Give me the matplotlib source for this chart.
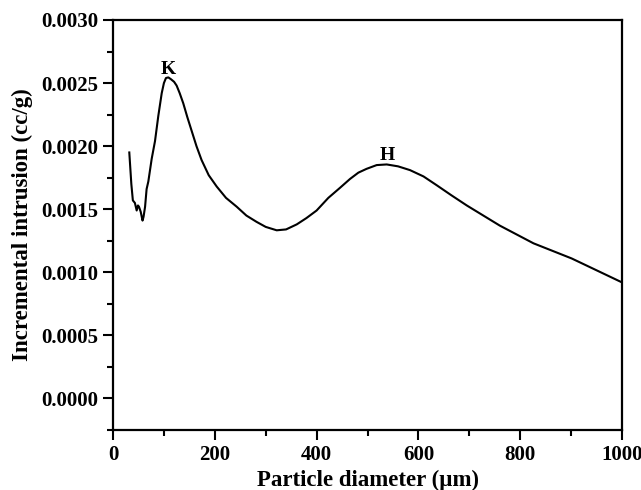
import matplotlib
matplotlib.use("Agg")
import matplotlib.pyplot as plt
from matplotlib.ticker import MultipleLocator, FormatStrFormatter
import numpy as np

# particle diameter (um) vs incremental intrusion (cc/g)
diameter = [32, 36, 39, 43, 46.5, 49, 51, 54.4, 58, 60, 63, 66, 69.4, 76, 82.5, 89,
            95.7, 100, 104, 108.7, 114, 120, 125, 131, 138, 146, 154.6, 164, 174,
            188, 203.7, 222, 243, 262, 282, 300, 321.6, 340, 361, 380, 400, 423, 446,
            465.6, 482, 498, 518, 537.7, 560, 583.5, 610, 636, 665, 695, 760, 826,
            901, 1000]
intrusion = [0.00195, 0.00170, 0.00157, 0.00155, 0.00149, 0.00153, 0.00152, 0.00148,
             0.00141, 0.00144, 0.00152, 0.00166, 0.00172, 0.00190, 0.00204, 0.00224,
             0.00242, 0.00250, 0.00254, 0.002545, 0.00253, 0.00251, 0.00248, 0.00242,
             0.00234, 0.00223, 0.00212, 0.00200, 0.00189, 0.00177, 0.00168, 0.00159,
             0.00152, 0.00145, 0.00140, 0.00136, 0.001333, 0.00134, 0.00138, 0.00143,
             0.00149, 0.00159, 0.00167, 0.00174, 0.00179, 0.00182, 0.00185, 0.001855,
             0.00184, 0.00181, 0.00176, 0.00169, 0.00161, 0.00153, 0.00137, 0.00123,
             0.00111, 0.00092]

peak_labels = ["K", "H"]
peak_x = [108, 538]
peak_y = [0.00257, 0.00189]

plt.rcParams['font.family'] = ['Liberation Serif', 'DejaVu Serif']
plt.rcParams['font.weight'] = 'bold'

fig = plt.figure(figsize=(6.41, 4.90), dpi=100)
ax = fig.add_axes([0.1763, 0.1224, 0.7941, 0.8368])
ax.plot(diameter, intrusion, color='black', linewidth=1.5)

for lab, px, py in zip(peak_labels, peak_x, peak_y):
    ax.text(px, py, lab, ha='center', va='baseline', fontsize=14, fontweight='bold')

ax.set_xlim(0, 1000)
ax.set_ylim(-0.00025, 0.0030)
ax.xaxis.set_major_locator(MultipleLocator(200))
ax.xaxis.set_minor_locator(MultipleLocator(100))
ax.yaxis.set_major_locator(MultipleLocator(0.0005))
ax.yaxis.set_minor_locator(MultipleLocator(0.00025))
ax.yaxis.set_major_formatter(FormatStrFormatter('%.4f'))

ax.tick_params(which='both', direction='out', top=False, right=False, width=1.5,
               labelsize=15)
ax.tick_params(which='major', length=7)
ax.tick_params(which='minor', length=4)
for s in ax.spines.values():
    s.set_linewidth(1.6)

ax.set_xlabel("Particle diameter (\u00b5m)", fontsize=16.5, fontweight='bold')
ax.set_ylabel("Incremental intrusion (cc/g)", fontsize=16.5, fontweight='bold',
              labelpad=6)

fig.savefig("out.png", dpi=100)
